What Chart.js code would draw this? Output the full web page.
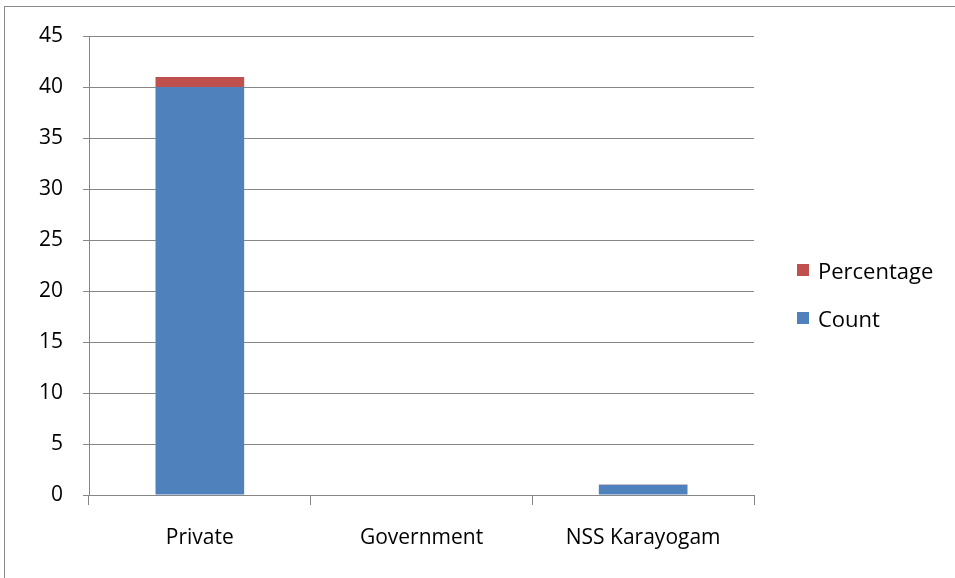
<!DOCTYPE html>
<html>
<head>
<meta charset="utf-8">
<script src="https://cdn.jsdelivr.net/npm/chart.js@4"></script>
<style>
  html, body { margin:0; padding:0; background:#fff; }
  #wrap { position:relative; width:955px; height:578px; overflow:hidden; }
  #frame { position:absolute; left:4px; top:6px; width:980px; height:600px; border:1px solid #8a8a8a; }
  #c { position:absolute; left:0; top:0; }
  #legend { position:absolute; left:797px; top:255px; font-family:"Open Sans", sans-serif; font-size:22px; color:#000; }
  .li { display:flex; align-items:center; height:30px; margin-bottom:18px; }
  .sw { width:12px; height:12px; margin-right:9px; }
</style>
</head>
<body>
<div id="wrap">
  <div id="frame"></div>
  <canvas id="c" width="955" height="578"></canvas>
  <div id="legend"></div>
</div>
<script>
const categories = ["Private", "Government", "NSS Karayogam"];
const countValues = [40, 0, 1];
const percentageValues = [0.976, 0, 0.024];
const yTicks = [0, 5, 10, 15, 20, 25, 30, 35, 40, 45];
const seriesNames = ["Count", "Percentage"];
const seriesColors = ["#4f81bd", "#c0504d"];

const gridColor = "#868686";
const fontSpec = { family: "'Open Sans', sans-serif", size: 21 };

const chart = new Chart(document.getElementById("c"), {
  type: "bar",
  data: {
    labels: categories,
    datasets: [
      { label: seriesNames[0], data: countValues, backgroundColor: seriesColors[0], barPercentage: 0.4, categoryPercentage: 1 },
      { label: seriesNames[1], data: percentageValues, backgroundColor: seriesColors[1], barPercentage: 0.4, categoryPercentage: 1 }
    ]
  },
  options: {
    responsive: false,
    animation: false,
    layout: { padding: { left: 0, top: 36, right: 201, bottom: 0 } },
    plugins: { legend: { display: false }, tooltip: { enabled: false } },
    scales: {
      x: {
        stacked: true,
        grid: { display: true, drawOnChartArea: false, drawTicks: true, tickLength: 10, color: gridColor, offset: true },
        border: { display: true, color: gridColor, width: 1 },
        ticks: { color: "#000", font: fontSpec, padding: 20 },
        afterFit: s => { s.height = 578 - 495; }
      },
      y: {
        stacked: true,
        min: 0, max: 45,
        afterBuildTicks: s => { s.ticks = yTicks.map(v => ({ value: v })); },
        grid: { color: gridColor, lineWidth: 1, tickLength: 6 },
        border: { display: true, color: gridColor, width: 1 },
        ticks: { color: "#000", font: fontSpec, padding: 20 },
        afterFit: s => { s.width = 89; }
      }
    }
  }
});

const legend = document.getElementById("legend");
[1, 0].forEach(i => {
  const d = document.createElement("div");
  d.className = "li";
  d.innerHTML = '<span class="sw" style="background:' + seriesColors[i] + '"></span><span>' + seriesNames[i] + '</span>';
  legend.appendChild(d);
});
</script>
</body>
</html>
